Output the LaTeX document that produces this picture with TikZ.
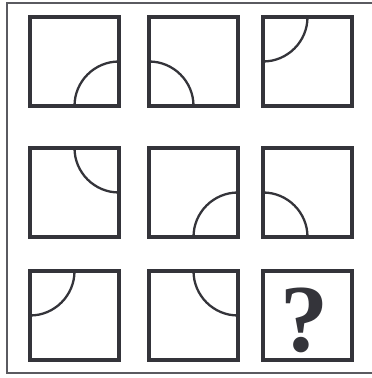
\documentclass[tikz,border=0pt]{standalone}
\usepackage{fontspec}
\setmainfont{Liberation Serif}
\usepackage{xcolor}
\usepackage{tikz}
\usetikzlibrary{positioning}
\definecolor{ink}{RGB}{52,52,58}
\definecolor{frm}{RGB}{90,90,96}

\begin{document}
\begin{tikzpicture}[x=1pt,y=1pt,
  cell/.style={draw=ink,line width=3.3pt,minimum size=89pt,inner sep=0pt,outer sep=0pt}]
  \useasboundingbox (0,0) rectangle (372,378);
  \draw[frm,line width=2pt] (372,374.5) -- (6.5,374.5) -- (6.5,5) -- (372,5);
  % the nine cells
  \foreach \r/\y in {1/316.5,2/185.5,3/62.5}
    \foreach \c/\x in {1/74.5,2/193.5,3/307.5}
      \node[cell] (b\r\c) at (\x,\y) {};
  % quarter arcs round one corner of each cell
  \foreach \b/\anc/\a/\e in {b11/south east/180/90, b12/south west/90/0, b13/north west/0/-90,
                             b21/north east/180/270, b22/south east/180/90, b23/south west/90/0,
                             b31/north west/0/-90, b32/north east/180/270}
    \draw[ink,line width=2.3pt] ([shift={(\a:44.5)}]\b.\anc) arc[start angle=\a,end angle=\e,radius=44.5];
  \node[ink,font=\fontsize{96}{96}\selectfont\bfseries] (q) at ([shift={(-3,-5)}]b33) {?};
\end{tikzpicture}
\end{document}
